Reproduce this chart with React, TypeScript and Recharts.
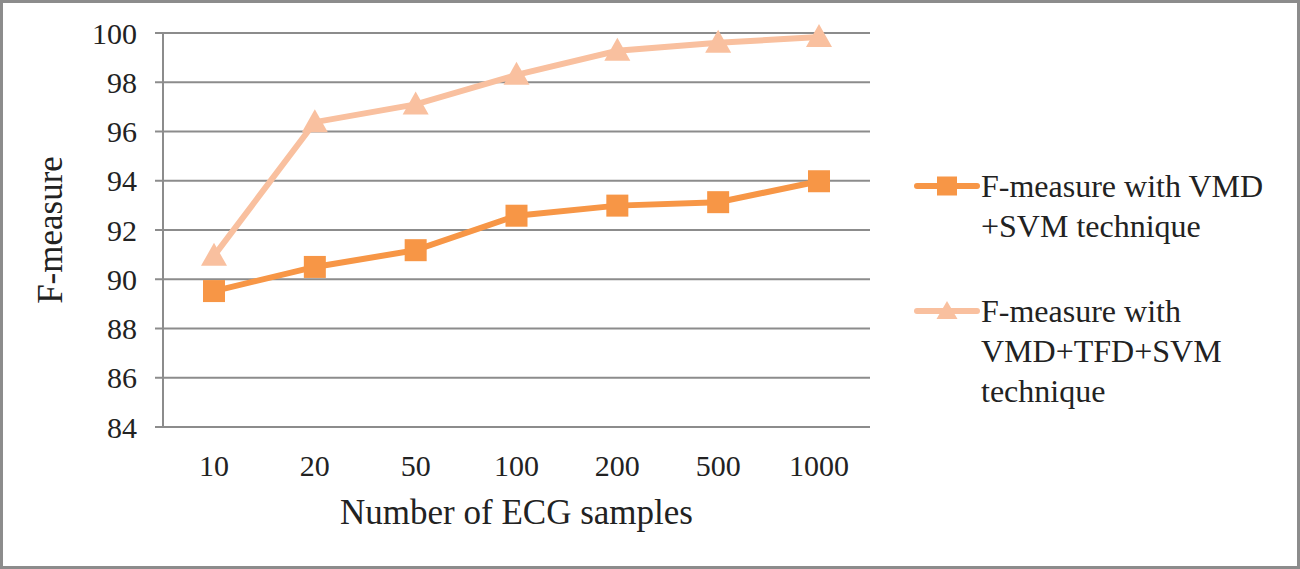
import { LineChart, Line, XAxis, YAxis, CartesianGrid } from 'recharts';

const sampleCounts = ['10', '20', '50', '100', '200', '500', '1000'];
const vmdSvm = [89.52, 90.5, 91.18, 92.58, 92.99, 93.13, 93.98];
const vmdTfdSvm = [90.95, 96.38, 97.1, 98.3, 99.28, 99.6, 99.84];
const yTicks = [84, 86, 88, 90, 92, 94, 96, 98, 100];

const SERIES_1_LINES = ['F-measure with VMD', '+SVM technique'];
const SERIES_2_LINES = ['F-measure with', 'VMD+TFD+SVM', 'technique'];

const ORANGE = '#F79646';
const PEACH = '#F9C09F';
const GRID = '#8c8c8c';
const FONT = '"Liberation Serif", "Times New Roman", serif';

const data = sampleCounts.map((n, i) => ({
  n,
  a: vmdSvm[i],
  b: vmdTfdSvm[i],
}));

const SquareDot = (props: any) => {
  const { cx, cy, index } = props;
  if (cx == null || cy == null) return null;
  return <rect key={`sq-${index}`} x={cx - 11} y={cy - 11} width={22} height={22} fill={ORANGE} />;
};

const TriangleDot = (props: any) => {
  const { cx, cy, index } = props;
  if (cx == null || cy == null) return null;
  const pts = `${cx},${cy - 13} ${cx + 13},${cy + 10} ${cx - 13},${cy + 10}`;
  return <polygon key={`tr-${index}`} points={pts} fill={PEACH} />;
};

function LegendItem({ color, marker, lines }: { color: string; marker: 'square' | 'triangle'; lines: string[] }) {
  return (
    <div style={{ display: 'flex', alignItems: 'flex-start' }}>
      <svg width={68} height={40} style={{ flexShrink: 0 }}>
        <line x1={4} y1={20} x2={64} y2={20} stroke={color} strokeWidth={6} strokeLinecap="round" />
        {marker === 'square' ? (
          <rect x={24} y={10.5} width={20} height={19} fill={color} />
        ) : (
          <polygon points="34,10 44.5,28 23.5,28" fill={color} />
        )}
      </svg>
      <div style={{ fontFamily: FONT, fontSize: 32, lineHeight: '40px', color: '#222' }}>
        {lines.map((l) => (
          <div key={l}>{l}</div>
        ))}
      </div>
    </div>
  );
}

export default function App() {
  return (
    <div
      style={{
        position: 'absolute',
        left: 0,
        top: 0,
        width: 1300,
        height: 569,
        background: '#fff',
        border: `3px solid ${GRID}`,
        boxSizing: 'border-box',
        fontFamily: FONT,
      }}
    >
      <div style={{ position: 'absolute', left: -3, top: -3 }}>
        <LineChart width={1300} height={569} data={data} margin={{ top: 33, right: 430, bottom: 0, left: 0 }}>
          <CartesianGrid vertical={false} stroke={GRID} strokeWidth={2} />
          <XAxis
            dataKey="n"
            padding={{ left: 51, right: 51 }}
            axisLine={{ stroke: GRID, strokeWidth: 2 }}
            tickLine={false}
            tick={{ fill: '#222', fontFamily: FONT, fontSize: 30 }}
            tickMargin={22}
            height={142}
            label={{
              value: 'Number of ECG samples',
              position: 'insideTop',
              offset: 72,
              fill: '#222',
              fontFamily: FONT,
              fontSize: 35,
            }}
          />
          <YAxis
            domain={[84, 100]}
            ticks={yTicks}
            interval={0}
            width={163}
            axisLine={{ stroke: GRID, strokeWidth: 2 }}
            tickLine={{ stroke: GRID, strokeWidth: 2 }}
            tickSize={8}
            tickMargin={18}
            tick={{ fill: '#222', fontFamily: FONT, fontSize: 30 }}
            label={{
              value: 'F-measure',
              angle: -90,
              position: 'insideLeft',
              offset: 50,
              style: { textAnchor: 'middle' },
              fill: '#222',
              fontFamily: FONT,
              fontSize: 35,
            }}
          />
          <Line
            dataKey="b"
            stroke={PEACH}
            strokeWidth={6}
            dot={<TriangleDot />}
            activeDot={false}
            isAnimationActive={false}
          />
          <Line
            dataKey="a"
            stroke={ORANGE}
            strokeWidth={6}
            dot={<SquareDot />}
            activeDot={false}
            isAnimationActive={false}
          />
        </LineChart>
      </div>
      <div style={{ position: 'absolute', left: 910, top: 163, display: 'flex', flexDirection: 'column', gap: 45 }}>
        <LegendItem color={ORANGE} marker="square" lines={SERIES_1_LINES} />
        <LegendItem color={PEACH} marker="triangle" lines={SERIES_2_LINES} />
      </div>
    </div>
  );
}
